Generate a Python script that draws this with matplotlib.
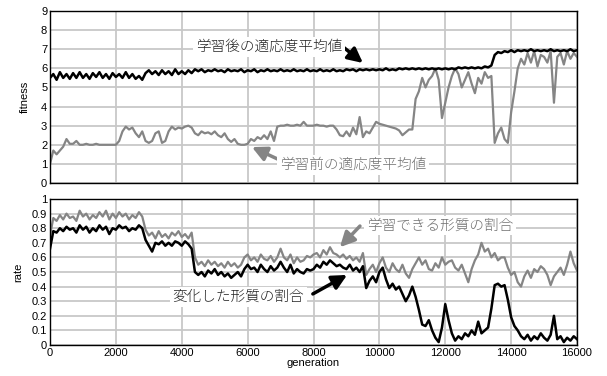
import numpy as np
import matplotlib
matplotlib.use('Agg')
import matplotlib.pyplot as plt

plt.rcParams['font.family'] = ['Liberation Sans', 'Noto Sans CJK JP', 'DejaVu Sans']

generation = np.arange(0, 16001, 100)

# fitness after learning (black, top)
fit_after = [
    5.5, 5.7, 5.4, 5.8, 5.5, 5.7, 5.45, 5.75, 5.5, 5.8,
    5.5, 5.7, 5.45, 5.75, 5.55, 5.8, 5.5, 5.7, 5.45, 5.75,
    5.55, 5.7, 5.5, 5.8, 5.5, 5.7, 5.45, 5.6, 5.4, 5.75,
    5.9, 5.7, 5.85, 5.65, 5.9, 5.7, 5.85, 5.65, 5.95, 5.7,
    5.85, 5.7, 5.9, 5.75, 5.95, 5.85, 5.95, 5.8, 5.9, 5.85,
    5.95, 5.85, 5.9, 5.8, 5.95, 5.85, 5.9, 5.85, 5.95, 5.8,
    5.9, 5.85, 5.95, 5.8, 5.9, 5.85, 5.95, 5.85, 5.9, 5.85,
    5.95, 5.85, 5.9, 5.85, 5.95, 5.85, 5.9, 5.85, 5.95, 5.85,
    5.9, 5.85, 5.95, 5.85, 5.9, 5.85, 5.95, 5.85, 5.9, 5.85,
    5.95, 5.9, 5.95, 5.85, 5.95, 5.9, 5.95, 5.9, 5.95, 5.9,
    5.95, 5.9, 6.0, 5.9, 5.95, 5.9, 6.0, 5.95, 6.0, 5.95,
    6.0, 5.95, 6.0, 5.95, 6.0, 5.95, 6.0, 5.95, 6.0, 5.95,
    6.0, 5.95, 6.0, 5.95, 6.05, 6.0, 6.05, 6.0, 6.05, 6.0,
    6.05, 6.0, 6.1, 6.05, 6.15, 6.7, 6.85, 6.8, 6.9, 6.85,
    6.95, 6.85, 6.95, 6.9, 6.95, 6.9, 7.0, 6.9, 6.95, 6.9,
    6.95, 6.9, 7.0, 6.9, 6.95, 6.9, 6.95, 6.9, 7.0, 6.9,
    6.95,
]

# fitness before learning (gray, top)
fit_before = [
    1.0, 1.7, 1.5, 1.7, 1.9, 2.3, 2.05, 2.05, 2.2, 2.0,
    2.0, 2.05, 2.0, 2.0, 2.05, 2.0, 2.0, 2.0, 2.0, 2.0,
    2.0, 2.2, 2.7, 2.95, 2.8, 2.9, 2.6, 2.4, 2.7, 2.2,
    2.1, 2.2, 2.6, 2.7, 2.1, 2.2, 2.7, 2.95, 2.8, 2.9,
    2.85, 2.95, 3.0, 2.9, 2.6, 2.5, 2.7, 2.6, 2.65, 2.55,
    2.7, 2.5, 2.4, 2.6, 2.3, 2.15, 2.3, 2.05, 2.0, 2.0,
    2.05, 2.3, 2.2, 2.4, 2.3, 2.5, 2.3, 2.7, 2.2, 2.95,
    3.0, 3.0, 3.05, 3.0, 3.0, 3.05, 3.0, 3.2, 3.0, 3.0,
    3.0, 3.05, 3.0, 3.0, 2.95, 3.0, 3.0, 2.8, 2.5, 2.45,
    2.7, 2.45, 2.9, 2.55, 3.45, 2.4, 2.7, 2.6, 2.9, 3.2,
    3.1, 3.05, 3.0, 2.95, 2.9, 2.85, 2.75, 2.5, 2.65, 2.8,
    2.8, 4.4, 4.8, 5.5, 5.0, 5.4, 5.6, 6.0, 5.4, 3.4,
    4.2, 5.0, 5.6, 6.0, 5.7, 5.0, 5.4, 5.8, 5.2, 4.7,
    5.5, 5.2, 5.8, 5.5, 5.6, 2.1, 2.6, 2.9, 2.3, 2.1,
    3.7, 4.8, 6.0, 6.5, 6.2, 6.8, 6.3, 6.9, 6.1, 6.7,
    6.6, 6.3, 6.9, 4.2, 6.6, 6.8, 6.2, 6.9, 6.5, 6.8,
    6.6,
]

# rate of learnable traits (gray, bottom)
rate_learn = [
    0.75, 0.87, 0.85, 0.89, 0.86, 0.9, 0.87, 0.88, 0.85, 0.92,
    0.88, 0.9, 0.86, 0.89, 0.87, 0.91, 0.88, 0.92, 0.86, 0.9,
    0.87, 0.91, 0.88, 0.9, 0.86, 0.89, 0.87, 0.91, 0.88, 0.79,
    0.75, 0.77, 0.73, 0.78, 0.74, 0.76, 0.73, 0.77, 0.75, 0.78,
    0.74, 0.76, 0.73, 0.77, 0.6, 0.55, 0.57, 0.54, 0.58, 0.55,
    0.57, 0.54, 0.56, 0.53, 0.57, 0.54, 0.56, 0.53, 0.55, 0.6,
    0.62, 0.58, 0.6, 0.57, 0.62, 0.59, 0.58, 0.61, 0.57, 0.6,
    0.66, 0.6, 0.58, 0.62, 0.56, 0.6, 0.57, 0.58, 0.61, 0.6,
    0.62, 0.63, 0.6, 0.65, 0.62, 0.67, 0.63, 0.62, 0.6, 0.62,
    0.59, 0.61, 0.58, 0.6, 0.57, 0.63, 0.48, 0.52, 0.55, 0.5,
    0.56, 0.6, 0.53, 0.5, 0.56, 0.52, 0.5, 0.55, 0.49, 0.46,
    0.52, 0.56, 0.6, 0.55, 0.58, 0.52, 0.51, 0.56, 0.53, 0.6,
    0.55, 0.57, 0.58, 0.53, 0.51, 0.55, 0.49, 0.43, 0.52, 0.58,
    0.62, 0.7, 0.64, 0.66, 0.6, 0.63, 0.58, 0.6, 0.6, 0.53,
    0.48, 0.5, 0.43, 0.4, 0.47, 0.51, 0.46, 0.52, 0.5, 0.54,
    0.52, 0.48, 0.41, 0.47, 0.5, 0.53, 0.48, 0.55, 0.64, 0.56,
    0.51,
]

# rate of changed traits (black, bottom)
rate_changed = [
    0.66, 0.78, 0.77, 0.8, 0.78, 0.81, 0.79, 0.8, 0.77, 0.82,
    0.79, 0.81, 0.77, 0.8, 0.78, 0.82, 0.79, 0.81, 0.76, 0.8,
    0.79, 0.82, 0.8, 0.81, 0.78, 0.8, 0.79, 0.82, 0.8, 0.72,
    0.68, 0.64, 0.7, 0.69, 0.71, 0.68, 0.7, 0.68, 0.71, 0.7,
    0.68, 0.71, 0.69, 0.66, 0.5, 0.48, 0.5, 0.47, 0.51, 0.49,
    0.52, 0.48, 0.5, 0.47, 0.49, 0.46, 0.48, 0.5, 0.47, 0.52,
    0.55, 0.52, 0.53, 0.5, 0.55, 0.52, 0.5, 0.54, 0.51, 0.53,
    0.57, 0.53, 0.5, 0.55, 0.49, 0.52, 0.5, 0.49, 0.52, 0.51,
    0.52, 0.55, 0.53, 0.57, 0.55, 0.58, 0.56, 0.54, 0.55, 0.53,
    0.52, 0.55, 0.51, 0.53, 0.5, 0.54, 0.39, 0.44, 0.47, 0.43,
    0.5, 0.53, 0.45, 0.39, 0.42, 0.38, 0.4, 0.35, 0.3, 0.34,
    0.4, 0.33, 0.24, 0.14, 0.13, 0.17, 0.1, 0.05, 0.02, 0.12,
    0.28, 0.17, 0.08, 0.03, 0.06, 0.04, 0.08, 0.06, 0.1, 0.07,
    0.16, 0.08, 0.1, 0.12, 0.25, 0.41, 0.42, 0.4, 0.41, 0.31,
    0.19, 0.13, 0.1, 0.06, 0.04, 0.07, 0.03, 0.06, 0.04, 0.08,
    0.05, 0.03, 0.07, 0.2, 0.04, 0.06, 0.02, 0.05, 0.03, 0.06,
    0.04,
]

x_ticks = list(range(0, 16001, 2000))
fit_ticks = list(range(0, 10))
rate_ticks = [round(v * 0.1, 1) for v in range(0, 11)]
rate_ticklabels = ['0', '0.1', '0.2', '0.3', '0.4', '0.5', '0.6', '0.7', '0.8', '0.9', '1']

GRAY = '#858585'
GRID = '#c8c8c8'
jp = ['Noto Sans CJK JP', 'DejaVu Sans']
arrow_kw = dict(arrowstyle='-|>', lw=2.5, mutation_scale=22, shrinkA=0, shrinkB=0)

fig = plt.figure(figsize=(6.07, 3.76), dpi=100)
ax1 = fig.add_axes([0.0824, 0.5133, 0.8682, 0.4574])
ax2 = fig.add_axes([0.0824, 0.0824, 0.8682, 0.3883])

for ax in (ax1, ax2):
    ax.set_xlim(0, 16000)
    ax.set_xticks(x_ticks)
    ax.grid(True, color=GRID, lw=1.3)
    ax.set_axisbelow(True)
    ax.tick_params(length=0, labelsize=8, pad=2)
    for sp in ax.spines.values():
        sp.set_color('black')
        sp.set_linewidth(1.0)

# top panel
ax1.plot(generation, fit_before, color=GRAY, lw=1.6)
ax1.plot(generation, fit_after, color='black', lw=1.8)
ax1.set_ylim(0, 9)
ax1.set_yticks(fit_ticks)
ax1.set_xticklabels([])
ax1.set_ylabel('fitness', fontsize=8, labelpad=8)

ax1.text(6650, 7.12, '学習後の適応度平均値', family=jp, fontsize=10.5, weight='light',
         color='#222222', ha='center', va='center', zorder=5,
         bbox=dict(facecolor='white', edgecolor='none', pad=2))
ax1.annotate('', xy=(9500, 6.28), xytext=(8713, 7.38),
             arrowprops=dict(color='black', **arrow_kw))
ax1.text(9200, 0.94, '学習前の適応度平均値', family=jp, fontsize=10.5, weight='light',
         color='#707070', ha='center', va='center', zorder=5,
         bbox=dict(facecolor='white', edgecolor='none', pad=2))
ax1.annotate('', xy=(6130, 1.88), xytext=(7100, 1.1),
             arrowprops=dict(color=GRAY, **arrow_kw))

# bottom panel
ax2.plot(generation, rate_learn, color=GRAY, lw=1.6)
ax2.plot(generation, rate_changed, color='black', lw=1.8)
ax2.set_ylim(0, 1)
ax2.set_yticks(rate_ticks)
ax2.set_yticklabels(rate_ticklabels)
ax2.set_ylabel('rate', fontsize=8, labelpad=6)
ax2.set_xlabel('generation', fontsize=8, labelpad=0)

ax2.text(11840, 0.82, '学習できる形質の割合', family=jp, fontsize=10.5, weight='light',
         color='#707070', ha='center', va='center', zorder=5,
         bbox=dict(facecolor='white', edgecolor='none', pad=2))
ax2.annotate('', xy=(8800, 0.67), xytext=(9410, 0.815),
             arrowprops=dict(color=GRAY, **arrow_kw))
ax2.text(5710, 0.33, '変化した形質の割合', family=jp, fontsize=10.5, weight='light',
         color='#222222', ha='center', va='center', zorder=5,
         bbox=dict(facecolor='white', edgecolor='none', pad=2))
ax2.annotate('', xy=(9020, 0.48), xytext=(7980, 0.35),
             arrowprops=dict(color='black', **arrow_kw))

fig.savefig('out.png', dpi=100)
